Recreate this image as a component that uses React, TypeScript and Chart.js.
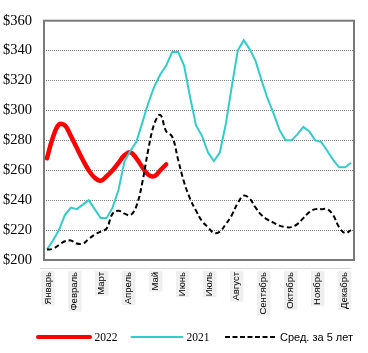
import React, { useEffect, useRef } from "react";
import { Chart, registerables } from "chart.js";

Chart.register(...registerables);

// ---- data ----
const weeks = Array.from({ length: 52 }, (_, i) => i + 1);

const months = [
  "Январь", "Февраль", "Март", "Апрель", "Май", "Июнь",
  "Июль", "Август", "Сентябрь", "Октябрь", "Ноябрь", "Декабрь",
];
// positions (in weeks) of month labels on the x axis
const monthTickWeeks = [0.2, 4.72, 9.25, 13.77, 18.3, 22.82, 27.35, 31.87, 36.4, 40.92, 45.45, 49.97];

const yTickValues = [200, 220, 240, 260, 280, 300, 320, 340, 360];

const series2022 = [
  268, 282, 290.5, 290, 283, 275, 267, 260, 255, 253,
  256, 260, 265, 270, 272, 268, 262, 257, 256, 260, 264,
];

const series2021 = [
  207, 213, 220, 230, 235, 234, 237, 240, 234, 228,
  228, 235, 247, 266, 273, 279, 292, 305, 316, 324,
  330, 339, 339, 330, 309, 290, 283, 272, 266, 272,
  291, 316, 340, 347, 341, 333, 320, 308, 298, 287,
  280, 280, 284, 289, 286, 280, 279, 273, 267, 262,
  262, 265,
];

const seriesAvg5 = [
  207, 207.5, 210, 212.5, 213, 211, 211, 214, 217, 219,
  221, 231, 233, 231, 230, 236, 252, 274, 291, 297,
  286, 282.5, 267, 252, 241, 233, 226, 222, 218, 219,
  224, 230, 238, 243, 241, 235, 230, 227, 225, 223,
  222, 222, 224, 228, 232, 234, 234, 234, 230, 222,
  218, 220,
];

const legendItems = [
  { label: "2022", color: "#ff0000", width: 4, dash: "", font: "'Liberation Serif', serif", size: 11.5 },
  { label: "2021", color: "#33cccc", width: 2, dash: "", font: "'Liberation Serif', serif", size: 11.5 },
  { label: "Сред. за 5 лет", color: "#000000", width: 2, dash: "5 2.5", font: "'Liberation Sans', sans-serif", size: 11 },
];

const toPoints = (arr: number[]) => arr.map((v, i) => ({ x: weeks[i], y: v }));

const framePlugin = {
  id: "frame",
  beforeDatasetsDraw(chart: any) {
    const { ctx, chartArea } = chart;
    const { left, top, right, bottom } = chartArea;
    ctx.save();
    ctx.strokeStyle = "#d9d9d9";
    ctx.lineWidth = 1;
    ctx.beginPath();
    ctx.moveTo(left - 4, bottom + 8.5);
    ctx.lineTo(right - 3, bottom + 8.5);
    ctx.stroke();
    ctx.strokeStyle = "#7a7a7a";
    ctx.lineWidth = 2;
    ctx.strokeRect(left, top, right - left, bottom - top);
    ctx.restore();
  },
};

export default function App() {
  const canvasRef = useRef<HTMLCanvasElement | null>(null);

  useEffect(() => {
    if (!canvasRef.current) return;
    const chart = new Chart(canvasRef.current, {
      type: "line",
      data: {
        datasets: [
          {
            label: "Сред. за 5 лет",
            data: toPoints(seriesAvg5),
            borderColor: "#000000",
            borderWidth: 2,
            borderDash: [5, 3],
            tension: 0.4,
            pointRadius: 0,
            fill: false,
            order: 1,
          },
          {
            label: "2021",
            data: toPoints(series2021),
            borderColor: "#33cccc",
            borderWidth: 2,
            tension: 0,
            pointRadius: 0,
            fill: false,
            order: 2,
          },
          {
            label: "2022",
            data: toPoints(series2022),
            borderColor: "#ff0000",
            borderWidth: 4.5,
            borderCapStyle: "round",
            tension: 0.4,
            pointRadius: 0,
            fill: false,
            order: 3,
          },
        ],
      },
      options: {
        animation: false,
        responsive: true,
        maintainAspectRatio: false,
        layout: { padding: { left: 0, top: 12, right: 14, bottom: 0 } },
        plugins: { legend: { display: false }, tooltip: { enabled: false } },
        scales: {
          x: {
            type: "linear",
            min: 0.5,
            max: 52.5,
            afterFit: (scale: any) => {
              scale.height = 93;
            },
            afterBuildTicks: (scale: any) => {
              scale.ticks = monthTickWeeks.map((v) => ({ value: v }));
            },
            grid: { display: false, drawTicks: false },
            border: { display: false },
            ticks: {
              autoSkip: false,
              maxRotation: 90,
              minRotation: 90,
              padding: 12,
              color: "#000",
              font: { family: "'Liberation Sans', sans-serif", size: 9.5 },
              showLabelBackdrop: true,
              backdropColor: "#efefef",
              backdropPadding: 1,
              callback: (_v: any, idx: number) => months[idx],
            },
          },
          y: {
            min: 200,
            max: 360,
            afterFit: (scale: any) => {
              scale.width = 44;
            },
            afterBuildTicks: (scale: any) => {
              scale.ticks = yTickValues.map((v) => ({ value: v }));
            },
            grid: {
              color: "#808080",
              lineWidth: 1,
              drawTicks: false,
            },
            border: { display: false, dash: [1, 1] },
            ticks: {
              padding: 12,
              color: "#000",
              font: { family: "'Liberation Serif', serif", size: 14.5 },
              callback: (v: any) => "$" + v,
            },
          },
        },
      },
      plugins: [framePlugin],
    } as any);
    return () => chart.destroy();
  }, []);

  const lineX = [[38, 90], [131.5, 182.5], [225, 276.5]];
  const textX = [94.5, 186.5, 280];

  return (
    <div style={{ position: "fixed", left: 0, top: 0, width: 368, height: 353, background: "#fff" }}>
      <canvas ref={canvasRef} width={368} height={353} />
      <svg width={368} height={353} style={{ position: "absolute", left: 0, top: 0, pointerEvents: "none" }}>
        {legendItems.map((it, i) => (
          <line
            key={it.label}
            x1={lineX[i][0]}
            x2={lineX[i][1]}
            y1={337}
            y2={337}
            stroke={it.color}
            strokeWidth={it.width}
            strokeDasharray={it.dash || undefined}
            strokeLinecap={it.dash ? "butt" : "round"}
          />
        ))}
      </svg>
      {legendItems.map((it, i) => (
        <span
          key={it.label + "t"}
          style={{
            position: "absolute",
            left: textX[i],
            top: 330,
            lineHeight: "14px",
            fontSize: it.size,
            fontFamily: it.font,
            color: "#000",
            whiteSpace: "nowrap",
          }}
        >
          {it.label}
        </span>
      ))}
    </div>
  );
}
